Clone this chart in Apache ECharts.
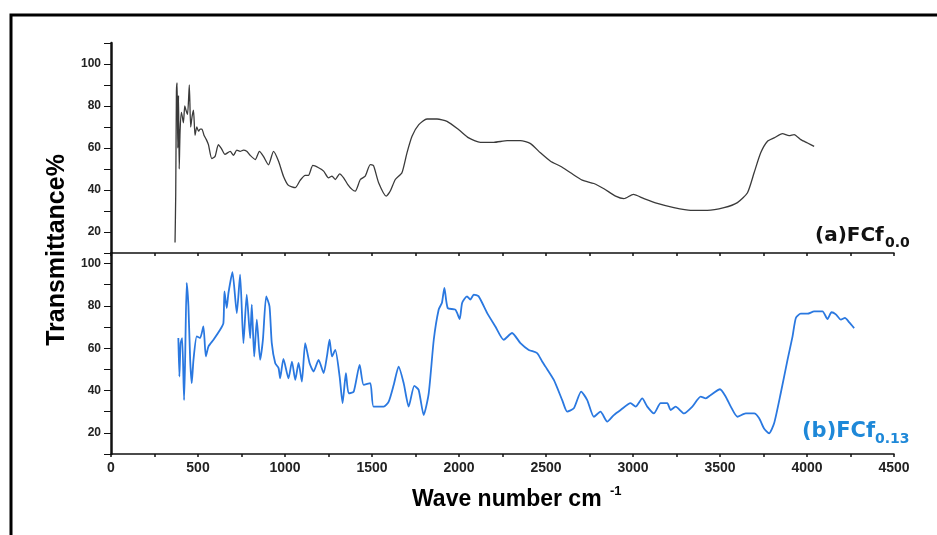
<!DOCTYPE html>
<html>
<head>
<meta charset="utf-8">
<script src="https://cdn.jsdelivr.net/npm/echarts@6/dist/echarts.min.js"></script>
<style>
  html, body { margin: 0; padding: 0; background: #fff; }
  #chart { width: 937px; height: 535px; }
</style>
</head>
<body>
<div id="chart"></div>
<script>
// (a) FCf0.0 - wave number / transmittance
const waveA = [368, 372, 376, 380, 384, 388, 392, 397, 405, 416, 424, 431, 440, 450, 458, 466, 474, 483, 493, 503,
  512, 522, 535, 548, 560, 579, 598, 617, 636, 655, 685, 704, 723, 742, 761, 780, 800, 829, 853, 876,
  905, 934, 963, 991, 1020, 1059, 1087, 1116, 1135, 1160, 1193, 1222, 1250, 1270, 1289, 1314, 1337, 1360, 1385, 1404,
  1433, 1461, 1490, 1509, 1538, 1582, 1605, 1634, 1672, 1701, 1730, 1769, 1816, 1874, 1931, 1999, 2056, 2123, 2200, 2277,
  2353, 2411, 2468, 2526, 2583, 2641, 2708, 2775, 2833, 2900, 2948, 3002, 3063, 3140, 3235, 3331, 3427, 3523, 3600, 3658,
  3696, 3734, 3773, 3811, 3859, 3897, 3926, 3964, 4003, 4041];
const transA = [15, 38, 87, 91, 60, 85, 50, 68, 77, 72, 80, 78, 76, 90, 70, 75, 78, 66, 70, 68,
  69, 69, 66, 64, 61.6, 55, 56, 61.6, 59.5, 57, 58.4, 56.5, 59, 58.4, 59, 58.4, 56.5, 54.5, 58.4, 56,
  52, 58.4, 53.7, 46.6, 42.2, 41.1, 44.6, 47, 47, 51.7, 50.6, 49, 45.8, 46.6, 45, 47.7, 45.8, 42.7, 40.3, 39.5,
  45, 46.6, 52.1, 51.5, 43.5, 37.1, 39.5, 45, 48.2, 57.7, 65.6, 71.1, 73.8, 73.8, 72.7, 68.7, 64.8, 62.7, 62.7, 63.5,
  63.5, 62.1, 57.7, 53.7, 51.3, 48.2, 44.7, 43.1, 40.6, 37.1, 35.9, 37.9, 35.9, 33.6, 31.6, 30.3, 30.3, 31.6, 34, 38.7,
  48.2, 57.7, 63.2, 64.8, 66.8, 65.9, 66.4, 64, 62.4, 60.8];

// (b) FCf0.13
const waveB = [387, 393, 400, 409, 420, 426, 435, 445, 455, 464, 474, 493, 512, 531, 545, 560, 589, 627, 646, 652,
  665, 675, 698, 723, 742, 761, 780, 800, 809, 823, 838, 857, 873, 892, 911, 924, 944, 963, 972, 991,
  1020, 1040, 1059, 1078, 1097, 1116, 1141, 1164, 1193, 1222, 1241, 1256, 1270, 1289, 1314, 1331, 1350, 1366, 1395, 1429,
  1452, 1490, 1509, 1567, 1596, 1625, 1653, 1682, 1711, 1743, 1768, 1797, 1826, 1855, 1883, 1902, 1916, 1935, 1979, 2004,
  2018, 2046, 2065, 2085, 2113, 2162, 2209, 2257, 2305, 2353, 2401, 2449, 2478, 2497, 2545, 2593, 2622, 2660, 2702, 2737,
  2775, 2813, 2852, 2890, 2929, 2986, 3015, 3053, 3082, 3120, 3159, 3197, 3216, 3245, 3293, 3341, 3389, 3418, 3447, 3500,
  3533, 3562, 3600, 3648, 3696, 3725, 3753, 3782, 3811, 3849, 3888, 3917, 3936, 3964, 4003, 4041, 4089, 4118, 4141, 4166,
  4195, 4218, 4243, 4271];
const transB = [64.8, 46.6, 62.4, 64.8, 35.5, 54.5, 90.9, 79.8, 54.5, 43.5, 54.5, 65.6, 64.8, 70.3, 56.1, 60.8, 64, 68.7, 71.9, 86.9,
  79, 86.1, 95.9, 76.6, 94.8, 62.4, 85.3, 64.8, 80.6, 56.1, 73.5, 54.5, 64, 84.5, 79.8, 62.4, 52.9, 50.6, 45.8, 55,
  45.8, 53.7, 45, 53, 44.2, 62.4, 53, 49, 54.5, 48.2, 56.1, 64, 56.1, 59.2, 46.6, 34, 48.2, 38.7, 39.5, 52.1,
  42.7, 43.5, 32.4, 32.4, 34.7, 42.7, 51.3, 43.5, 32.4, 42.2, 40.3, 28.4, 38.7, 64, 78.2, 81.5, 88.5, 79, 78.2, 73.8,
  81.4, 84.5, 83, 85.3, 84.5, 76.6, 70.3, 64, 67.2, 62.4, 59.2, 57.7, 53.7, 51.3, 45, 35.5, 30, 31.6, 39.5, 35.5,
  27.6, 30, 25.3, 28.4, 30.8, 34, 32.4, 36.3, 32.4, 29.2, 34, 34, 30.8, 32.4, 29.2, 32.4, 37.1, 36.3, 37.9, 40.6,
  37.1, 32.4, 27.6, 29.2, 29.2, 26.9, 22.1, 19.8, 24.5, 38.7, 54.5, 65.6, 74.3, 76.3, 76.3, 77.4, 77.4, 73.8, 77, 76,
  73.5, 74.3, 72.2, 69.5];

const yTicks = [20, 40, 60, 80, 100];
const xTicks = [0, 500, 1000, 1500, 2000, 2500, 3000, 3500, 4000, 4500];

const pairs = (xs, ys) => xs.map((x, i) => [x, ys[i]]);

const tickFont = { fontFamily: 'Liberation Sans Narrow, Liberation Sans, Arial', fontWeight: 'bold', color: '#222' };

function xAxisOf(gridIndex, showLabel) {
  return {
    type: 'value', gridIndex: gridIndex, min: 0, max: 4500, interval: 250,
    axisLine: { lineStyle: { color: '#111', width: 1.5 } },
    axisTick: { length: 3, lineStyle: { color: '#111', width: 1.5 } },
    splitLine: { show: false },
    axisLabel: {
      show: showLabel, margin: 7, fontSize: 14, ...tickFont,
      formatter: v => (xTicks.indexOf(v) >= 0 ? String(v) : '')
    }
  };
}

function yAxisOf(gridIndex, max) {
  return {
    type: 'value', gridIndex: gridIndex, min: 10, max: max, interval: 10,
    axisLine: { show: true, lineStyle: { color: '#111', width: 2.5 } },
    axisTick: { show: true, length: 7, lineStyle: { color: '#111', width: 1 } },
    splitLine: { show: false },
    axisLabel: {
      margin: 10, fontSize: 12, ...tickFont,
      formatter: v => (yTicks.indexOf(v) >= 0 ? String(v) : '')
    }
  };
}

const chart = echarts.init(document.getElementById('chart'));
chart.setOption({
  animation: false,
  backgroundColor: '#fff',
  grid: [
    { left: 111, right: 43, top: 43, height: 210 },
    { left: 111, right: 43, top: 253, height: 201 }
  ],
  xAxis: [xAxisOf(0, false), xAxisOf(1, true)],
  yAxis: [yAxisOf(0, 110), yAxisOf(1, 105)],
  series: [
    {
      name: '(a)FCf0.0', type: 'line', xAxisIndex: 0, yAxisIndex: 0,
      data: pairs(waveA, transA), showSymbol: false, smooth: 0.2,
      lineStyle: { color: '#3a3a3a', width: 1.3 }
    },
    {
      name: '(b)FCf0.13', type: 'line', xAxisIndex: 1, yAxisIndex: 1,
      data: pairs(waveB, transB), showSymbol: false, smooth: 0.2,
      lineStyle: { color: '#2a78e0', width: 1.8 }
    }
  ],
  graphic: [
    { type: 'rect', shape: { x: 11, y: 15, width: 1000, height: 600 },
      style: { fill: 'none', stroke: '#000', lineWidth: 3 }, silent: true },
    { type: 'text', x: 57, y: 250, rotation: Math.PI / 2,
      style: { text: 'Transmittance%', font: 'bold 25px "Liberation Sans", Arial', fill: '#000',
        align: 'center', verticalAlign: 'middle' } },
    { type: 'text', x: 412, y: 500,
      style: { text: 'Wave number cm', font: 'bold 23px "Liberation Sans", Arial', fill: '#000',
        align: 'left', verticalAlign: 'middle' } },
    { type: 'text', x: 610, y: 491,
      style: { text: '-1', font: 'bold 13px "Liberation Sans", Arial', fill: '#000',
        align: 'left', verticalAlign: 'middle' } },
    { type: 'text', x: 815, y: 246,
      style: { text: '(a)FCf', font: 'bold 20px "DejaVu Sans"', fill: '#111',
        align: 'left', verticalAlign: 'bottom' } },
    { type: 'text', x: 885, y: 250,
      style: { text: '0.0', font: 'bold 14px "DejaVu Sans"', fill: '#111',
        align: 'left', verticalAlign: 'bottom' } },
    { type: 'text', x: 802, y: 442,
      style: { text: '(b)FCf', font: 'bold 21px "DejaVu Sans"', fill: '#1e88d8',
        align: 'left', verticalAlign: 'bottom' } },
    { type: 'text', x: 875, y: 446,
      style: { text: '0.13', font: 'bold 14px "DejaVu Sans"', fill: '#1e88d8',
        align: 'left', verticalAlign: 'bottom' } }
  ]
});
</script>
</body>
</html>
